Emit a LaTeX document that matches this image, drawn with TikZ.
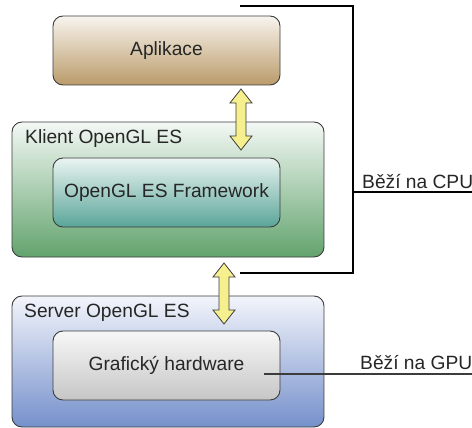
\documentclass[tikz,border=0pt]{standalone}
\usepackage{fontspec}
\setmainfont{Liberation Sans}
\usetikzlibrary{calc}
\definecolor{edge}{HTML}{3C3C3C}
\definecolor{txt}{HTML}{262626}
\definecolor{apT}{HTML}{F8F4EE}\definecolor{apB}{HTML}{BA9B6A}
\definecolor{klT}{HTML}{F3F8F4}\definecolor{klB}{HTML}{62A36D}
\definecolor{fwT}{HTML}{EAF4F1}\definecolor{fwB}{HTML}{5AA599}
\definecolor{svT}{HTML}{F3F5FB}\definecolor{svB}{HTML}{7590CB}
\definecolor{ghT}{HTML}{F7F7F7}\definecolor{ghB}{HTML}{C6C6C6}
\definecolor{arw}{HTML}{F6EF8E}
\tikzset{
  box/.style={draw=edge, line width=0.9pt, rounded corners=10pt, inner sep=0pt,
    minimum width=227pt, minimum height=69pt, text=txt, font=\fontsize{19.2}{21}\selectfont},
  outer/.style={draw=edge, line width=0.9pt, rounded corners=10pt, inner sep=0pt,
    minimum width=312pt},
  lbl/.style={font=\fontsize{19.2}{21}\selectfont, text=txt, inner sep=0pt},
  bracket/.style={line width=2pt, black},
  gline/.style={line width=1.3pt, edge},
  dbl/.style={draw=edge, line width=0.8pt, fill=arw, line join=miter}
}
\newcommand{\dblarrow}[2]{%
  \draw[dbl] ($(#1)$) -- ++(11,14) -- ++(-6,0) -- ($(#2)+(5,-14)$) -- ++(6,0)
    -- ($(#2)$) -- ++(-11,-14) -- ++(6,0) -- ($(#1)+(-5,14)$) -- ++(-6,0) -- cycle;}
\begin{document}
\begin{tikzpicture}[x=1pt,y=-1pt]
\useasboundingbox (0,0) rectangle (472,428);
% outer containers
\node[outer, minimum height=135pt, top color=klT, bottom color=klB] (klient) at (168,189.5) {};
\node[outer, minimum height=131pt, top color=svT, bottom color=svB] (server) at (168,361.5) {};
\node[lbl, anchor=base west] (klientlbl) at (25,144) {Klient OpenGL ES};
\node[lbl, anchor=base west] (serverlbl) at (24,317) {Server OpenGL ES};
% inner boxes
\node[box, top color=apT, bottom color=apB] (apl) at (166.5,50.5) {Aplikace};
\node[box, top color=fwT, bottom color=fwB] (fw) at (166.5,192.5) {OpenGL ES Framework};
\node[box, top color=ghT, bottom color=ghB] (gh) at (166.5,365.5) {Grafický hardware};
% double arrows
\coordinate (a1t) at (241,89);
\coordinate (a1b) at (241,150);
\coordinate (a2t) at (224,263);
\coordinate (a2b) at (224,324);
\dblarrow{a1t}{a1b}
\dblarrow{a2t}{a2b}
% CPU bracket
\coordinate (bt) at (240,6);
\coordinate (bb) at (240,273);
\coordinate (bc) at (352.5,192);
\coordinate (cpuend) at (472,192);
\draw[bracket] (bt) -| (bc) |- (bb);
\draw[bracket] (bc) -- (cpuend);
\node[lbl, anchor=base west] (cpu) at (362,188) {Běží na CPU};
% GPU line
\coordinate (gs) at (264,374);
\coordinate (gpuend) at (472,374);
\draw[gline] (gs) -- (gpuend);
\node[lbl, anchor=base west] (gpu) at (360,369) {Běží na GPU};
\end{tikzpicture}
\end{document}
